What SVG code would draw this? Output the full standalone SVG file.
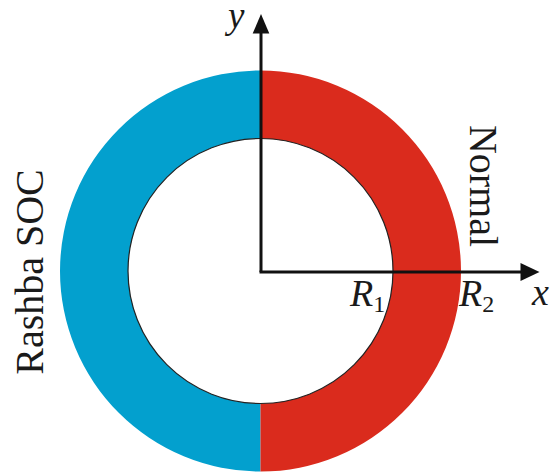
<svg xmlns="http://www.w3.org/2000/svg" width="551" height="474" viewBox="0 0 551 474">
<style>
.lbl{font-family:"Liberation Serif","Times New Roman",serif;fill:#1a1a1a}
.it{font-style:italic}
.sub{font-style:normal;font-size:24px}
.axis{stroke:#111;stroke-width:3;fill:none}
.head{fill:#111}
</style>
<rect width="551" height="474" fill="#fff"/>
<g id="annulus">
<path id="rashba-half" d="M260.5,70.5 A200.5,200.5 0 0 0 260.5,471.5 L260.5,403.5 A132.5,132.5 0 0 1 260.5,138.5 Z" fill="#03A0CE"/>
<path id="normal-half" d="M260.5,70.5 A200.5,200.5 0 0 1 260.5,471.5 L260.5,403.5 A132.5,132.5 0 0 0 260.5,138.5 Z" fill="#DA2B1D"/>
<circle cx="260.5" cy="271" r="132.5" fill="none" stroke="#222" stroke-width="1.2"/>
</g>
<g id="connectors">
<line class="axis" x1="261" y1="272" x2="261" y2="30"/>
<polygon class="head" points="261,14 252.7,33.5 269.3,33.5"/>
<line class="axis" x1="259.5" y1="272" x2="524" y2="272"/>
<polygon class="head" points="539.5,272 520.5,263 520.5,281"/>
</g>
<g id="labels">
<text class="lbl it" x="228" y="28" font-size="37">y</text>
<text class="lbl it" x="532" y="305" font-size="38">x</text>
<text class="lbl it" x="350" y="306" font-size="38">R<tspan class="sub" dy="6">1</tspan></text>
<text class="lbl it" x="459" y="306" font-size="38">R<tspan class="sub" dy="6">2</tspan></text>
<text class="lbl" font-size="40" text-anchor="middle" transform="translate(43,272) rotate(-90)">Rashba SOC</text>
<text class="lbl" font-size="40" text-anchor="middle" transform="translate(470,186) rotate(90)">Normal</text>
</g>
</svg>
